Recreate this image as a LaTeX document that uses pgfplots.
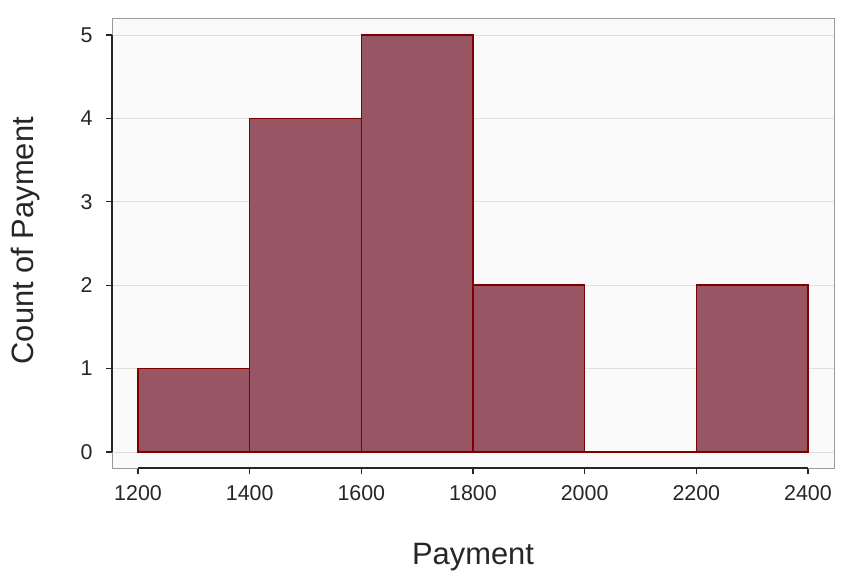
\documentclass[border=0pt]{standalone}
\usepackage{pgfplots}
\pgfplotsset{compat=1.18}
\usepackage{fontspec}
\setmainfont{Liberation Sans}
\definecolor{barfill}{HTML}{985563}
\definecolor{baredge}{HTML}{800000}
\definecolor{bgc}{HTML}{FAFAFA}
\definecolor{framec}{HTML}{9A9A9A}
\definecolor{gridc}{HTML}{E2E0DC}
\definecolor{txt}{HTML}{262626}
\pgfplotstableread{
x y
1200 1
1400 4
1600 5
1800 2
2000 0
2200 2
2400 2
}\histdata
\begin{document}
\begin{tikzpicture}[x=1bp,y=1bp]
\useasboundingbox (-112bp,-108bp) rectangle (752bp,468bp);
\begin{axis}[
  scale only axis,
  width=722bp, height=450bp,
  xmin=1153.4, xmax=2446.6,
  ymin=-0.192, ymax=5.204,
  xtick={1200,1400,1600,1800,2000,2200,2400},
  ytick={0,1,2,3,4,5},
  tick pos=left,
  tick align=outside,
  major tick length=6bp,
  tick style={color=txt, line width=1.2bp},
  axis line style={color=framec, line width=0.9bp},
  axis background/.style={fill=bgc},
  ymajorgrids,
  grid style={color=gridc, line width=0.9bp},
  /pgf/number format/assume math mode=true,
  /pgf/number format/1000 sep={},
  tick label style={font=\fontsize{21.5}{25}\selectfont, color=txt},
  xticklabel style={yshift=-8bp},
  yticklabel style={xshift=-10bp},
  xlabel={Payment},
  ylabel={Count of Payment},
  label style={font=\fontsize{31}{36}\selectfont, color=txt},
  xlabel style={at={(rel axis cs:0.5,-0.198)}, anchor=center},
  ylabel style={at={(rel axis cs:-0.12,0.505)}, anchor=center, rotate=0},
  clip=false,
]
\addplot[ybar interval, fill=barfill, draw=none] table[x=x,y=y] {\histdata};
\addplot[ybar interval, fill=none, draw=baredge, line width=1.5bp] table[x=x,y=y] {\histdata};
\draw[color=txt, line width=1.6bp] (axis cs:1153.4,0) -- (axis cs:1153.4,5);
\draw[color=txt, line width=1.6bp] (axis cs:1200,-0.192) -- (axis cs:2400,-0.192);
\end{axis}
\end{tikzpicture}
\end{document}
